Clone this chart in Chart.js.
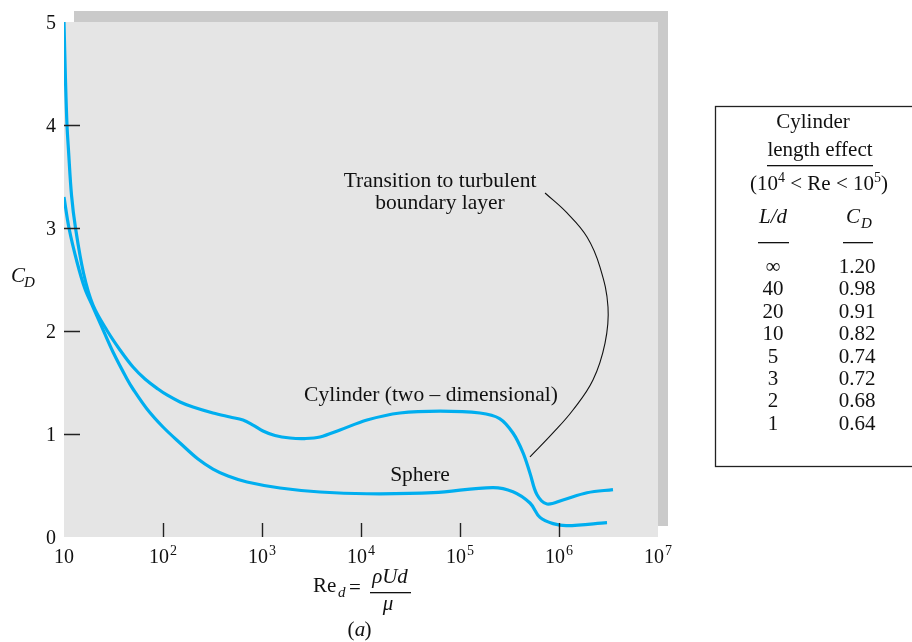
<!DOCTYPE html>
<html>
<head>
<meta charset="utf-8">
<script src="https://cdn.jsdelivr.net/npm/chart.js@4.4.1/dist/chart.umd.min.js"></script>
<style>
body { margin: 0; background: #fff; }
#wrap { width: 912px; height: 642px; position: relative; }
</style>
</head>
<body>
<div id="wrap"><canvas id="cdChart"></canvas></div>
<script>
// values: Re_d and C_D
var cylRe = [10, 10.35, 10.72, 11.1, 11.91, 13.07, 15.74, 19.63, 27.82, 36.78, 49.77, 65.79, 89, 109.7, 148.5, 200.9,
             319.9, 475.1, 642.9, 811.3, 1023, 1353, 1918, 2719, 3855, 6136, 11500, 24760, 62810, 159200,
             251200, 342800, 432500, 509300, 599800, 756800, 1.096e6, 1.92e6, 3.51e6];
var cylCd = [5.0, 4.437, 4.0, 3.757, 3.32, 3.0, 2.563, 2.252, 1.99, 1.816, 1.65, 1.534, 1.437, 1.379, 1.311, 1.262,
             1.204, 1.165, 1.136, 1.087, 1.029, 0.985, 0.961, 0.956, 0.971, 1.039, 1.136, 1.204, 1.223, 1.204,
             1.15, 1.01, 0.82, 0.62, 0.41, 0.32, 0.36, 0.43, 0.46];

var sphRe = [10, 11.23, 13.53, 16.3, 19.63, 23.64, 31.26, 43.29, 49.77, 68.9, 100, 148.5, 225.7, 319.9, 453.5, 705.6,
             1520, 3855, 11480, 53700, 213800, 342800, 509300, 642700, 871000, 1.202e6, 3.055e6];
var sphCd = [3.30, 3.0, 2.67, 2.408, 2.233, 2.058, 1.796, 1.534, 1.437, 1.243, 1.068, 0.913, 0.757, 0.66, 0.592, 0.534,
             0.476, 0.437, 0.42, 0.43, 0.48, 0.44, 0.33, 0.19, 0.13, 0.11, 0.14];

// leader line of the "transition" note
var annRe = [7.23e5, 1.205e6, 1.919e6, 2.594e6, 3.126e6, 2.917e6, 2.203e6, 1.384e6, 8.69e5, 5.09e5];
var annCd = [3.34, 3.146, 2.913, 2.621, 2.233, 1.883, 1.524, 1.233, 1.010, 0.777];

var xTicks = [10, 1e2, 1e3, 1e4, 1e5, 1e6, 1e7];
var xTickSup = ['', '2', '3', '4', '5', '6', '7'];
var yTicks = [0, 1, 2, 3, 4, 5];

var tableLd = ['\u221E', '40', '20', '10', '5', '3', '2', '1'];
var tableCd = ['1.20', '0.98', '0.91', '0.82', '0.74', '0.72', '0.68', '0.64'];

var blue = 'rgb(0,174,239)';
var serif = '"Liberation Serif", "Times New Roman", serif';

function toPoints(xs, ys) {
    var pts = [];
    for (var i = 0; i < xs.length; i++) {
        pts.push({x: xs[i], y: ys[i]});
    }
    return pts;
}

function font(size, italic) {
    return (italic ? 'italic ' : '') + size + 'px ' + serif;
}

// draws base text + raised small text, centered on cx
function drawSup(ctx, base, sup, cx, y, size, supSize, rise, italic) {
    ctx.font = font(size, italic);
    var w1 = ctx.measureText(base).width;
    ctx.font = font(supSize, italic);
    var w2 = sup ? ctx.measureText(sup).width + 1 : 0;
    var x0 = cx - (w1 + w2) / 2;
    ctx.textAlign = 'left';
    ctx.font = font(size, italic);
    ctx.fillText(base, x0, y);
    if (sup) {
        ctx.font = font(supSize, italic);
        ctx.fillText(sup, x0 + w1 + 1, y - rise);
    }
}

var backdrop = {
    id: 'backdrop',
    beforeDatasetsDraw: function (chart) {
        var ctx = chart.ctx;
        var a = chart.chartArea;
        ctx.save();
        ctx.fillStyle = '#cacaca';
        ctx.fillRect(a.left + 10, a.top - 11, a.right - a.left, a.bottom - a.top);
        ctx.fillStyle = '#e5e5e5';
        ctx.fillRect(a.left, a.top, a.right - a.left, a.bottom - a.top);
        ctx.restore();
    },
    afterDatasetsDraw: function (chart) {
        var ctx = chart.ctx;
        var a = chart.chartArea;
        var xs = chart.scales.x, ys = chart.scales.y;
        ctx.save();
        ctx.strokeStyle = '#222';
        ctx.lineWidth = 1.4;
        ctx.beginPath();
        for (var i = 1; i < yTicks.length - 1; i++) {
            var py = Math.round(ys.getPixelForValue(yTicks[i])) + 0.5;
            ctx.moveTo(a.left, py);
            ctx.lineTo(a.left + 16, py);
        }
        for (var j = 1; j < xTicks.length - 1; j++) {
            var px = Math.round(xs.getPixelForValue(xTicks[j])) + 0.5;
            ctx.moveTo(px, a.bottom);
            ctx.lineTo(px, a.bottom - 14);
        }
        ctx.stroke();
        ctx.restore();
    },
    afterDraw: function (chart) {
        var ctx = chart.ctx;
        var a = chart.chartArea;
        var xs = chart.scales.x, ys = chart.scales.y;
        ctx.save();
        ctx.fillStyle = '#111';
        ctx.textBaseline = 'alphabetic';

        // y tick labels
        ctx.font = font(20);
        ctx.textAlign = 'right';
        for (var i = 0; i < yTicks.length; i++) {
            ctx.fillText(String(yTicks[i]), a.left - 8, ys.getPixelForValue(yTicks[i]) + 7);
        }
        // x tick labels
        for (var j = 0; j < xTicks.length; j++) {
            drawSup(ctx, '10', xTickSup[j], xs.getPixelForValue(xTicks[j]), a.bottom + 26, 20, 14, 8);
        }

        // C_D axis title
        ctx.textAlign = 'left';
        ctx.font = font(21, true);
        ctx.fillText('C', 11, 282);
        ctx.font = font(15, true);
        ctx.fillText('D', 24, 287);

        // Re_d = rho U d / mu
        ctx.font = font(21);
        ctx.fillText('Re', 313, 592);
        ctx.font = font(15, true);
        ctx.fillText('d', 338, 597);
        ctx.font = font(21);
        ctx.fillText('=', 349, 594);
        ctx.font = font(21, true);
        ctx.textAlign = 'center';
        ctx.fillText('\u03C1Ud', 390, 583);
        ctx.fillText('\u03BC', 388, 610);
        ctx.fillRect(370, 592, 41, 1.3);
        ctx.font = font(21);
        ctx.fillText('(', 351, 636);
        ctx.fillText(')', 368, 636);
        ctx.font = font(21, true);
        ctx.fillText('a', 360, 636);

        // in-plot notes
        ctx.font = font(21.5);
        ctx.textAlign = 'center';
        ctx.fillText('Transition to turbulent', 440, 187);
        ctx.fillText('boundary layer', 440, 209);
        ctx.fillText('Cylinder (two \u2013 dimensional)', 431, 401);
        ctx.fillText('Sphere', 420, 481);

        // length-effect table
        ctx.strokeStyle = '#222';
        ctx.lineWidth = 1.3;
        ctx.strokeRect(715.5, 106.5, 220, 360);
        ctx.font = font(21);
        ctx.fillText('Cylinder', 813, 128);
        ctx.fillText('length effect', 820, 156);
        ctx.fillRect(767, 165, 106, 1.3);

        // (10^4 < Re < 10^5)
        var parts = [['(10', 21, 0], ['4', 14, 8], [' < Re < 10', 21, 0], ['5', 14, 8], [')', 21, 0]];
        var tw = 0;
        parts.forEach(function (p) { ctx.font = font(p[1]); tw += ctx.measureText(p[0]).width; });
        var tx = 819 - tw / 2;
        ctx.textAlign = 'left';
        parts.forEach(function (p) {
            ctx.font = font(p[1]);
            ctx.fillText(p[0], tx, 190 - p[2]);
            tx += ctx.measureText(p[0]).width;
        });

        ctx.textAlign = 'center';
        ctx.font = font(21, true);
        ctx.fillText('L/d', 773, 223);
        ctx.fillText('C', 853, 223);
        ctx.font = font(15, true);
        ctx.textAlign = 'left';
        ctx.fillText('D', 861, 228);
        ctx.fillRect(758, 242, 31, 1.3);
        ctx.fillRect(843, 242, 30, 1.3);

        ctx.font = font(21);
        ctx.textAlign = 'center';
        for (var r = 0; r < tableLd.length; r++) {
            var by = 273 + r * 22.4;
            ctx.fillText(tableLd[r], 773, by);
            ctx.fillText(tableCd[r], 857, by);
        }
        ctx.restore();
    }
};

var ctx = document.getElementById('cdChart').getContext('2d');
var cdChart = new Chart(ctx, {
    type: 'line',
    data: {
        datasets: [
            {
                label: 'Cylinder',
                data: toPoints(cylRe, cylCd),
                borderColor: blue,
                borderWidth: 3.2,
                pointRadius: 0,
                tension: 0.35,
                fill: false
            },
            {
                label: 'Sphere',
                data: toPoints(sphRe, sphCd),
                borderColor: blue,
                borderWidth: 3.2,
                pointRadius: 0,
                tension: 0.35,
                fill: false
            },
            {
                label: 'note',
                data: toPoints(annRe, annCd),
                borderColor: '#111',
                borderWidth: 1.1,
                pointRadius: 0,
                tension: 0.4,
                fill: false
            }
        ]
    },
    options: {
        responsive: true,
        maintainAspectRatio: false,
        animation: false,
        events: [],
        layout: { padding: { left: 64, top: 22, right: 254, bottom: 105 } },
        plugins: {
            legend: { display: false },
            tooltip: { enabled: false }
        },
        scales: {
            x: { type: 'logarithmic', min: 10, max: 1e7, display: false },
            y: { type: 'linear', min: 0, max: 5, display: false }
        }
    },
    plugins: [backdrop]
});
</script>
</body>
</html>
